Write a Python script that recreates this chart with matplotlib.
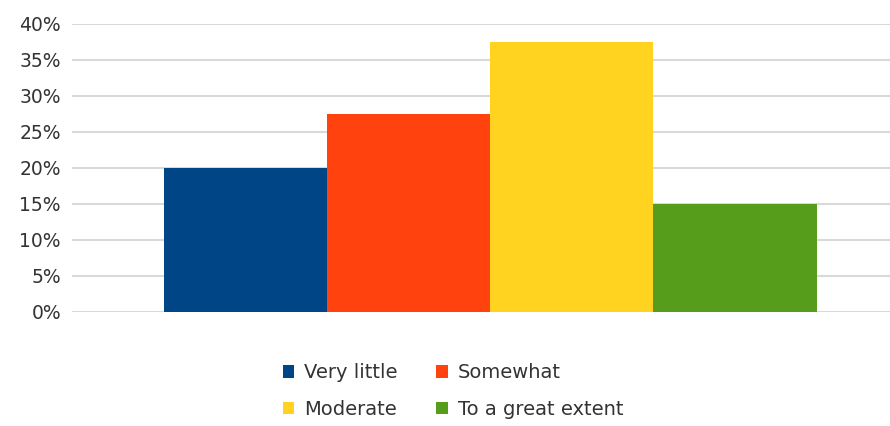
import matplotlib.pyplot as plt
from matplotlib.patches import Patch
import numpy as np

categories = ['Very little', 'Somewhat', 'Moderate', 'To a great extent']
values = [20, 27.5, 37.5, 15]
colors = ['#004586', '#ff420e', '#ffd320', '#579d1c']
yticks = np.arange(0, 41, 5)

plt.rcParams['font.family'] = ['DejaVu Sans']

fig = plt.figure(figsize=(8.9, 4.26), dpi=100)
ax = fig.add_axes([0.081, 0.268, 0.919, 0.676])

x = np.arange(len(categories))
ax.bar(x, values, width=1.0, color=colors, zorder=3)

ax.set_xlim(-1.06, 3.95)
ax.set_ylim(0, 40)
ax.set_yticks(yticks)
ax.set_yticklabels([f'{t}%' for t in yticks], fontsize=13.5, color='#333333')
ax.set_xticks([])
ax.yaxis.grid(True, color='#d9d9d9', linewidth=1.5, zorder=0)
ax.tick_params(axis='y', length=0, pad=8)
for s in ax.spines.values():
    s.set_visible(False)

handles = [Patch(facecolor=c, label=l) for c, l in zip(colors, categories)]
# legend order: row1 Very little, Somewhat; row2 Moderate, To a great extent
order = [0, 2, 1, 3]
fig.legend([handles[i] for i in order], [categories[i] for i in order],
           ncol=2, loc='center', bbox_to_anchor=(453 / 890, 1 - 391 / 426),
           frameon=False, fontsize=14, handlelength=0.6, handleheight=0.6,
           handletextpad=0.5, columnspacing=2.0, labelspacing=0.9,
           labelcolor='#333333')

fig.savefig('out.png', dpi=100)
